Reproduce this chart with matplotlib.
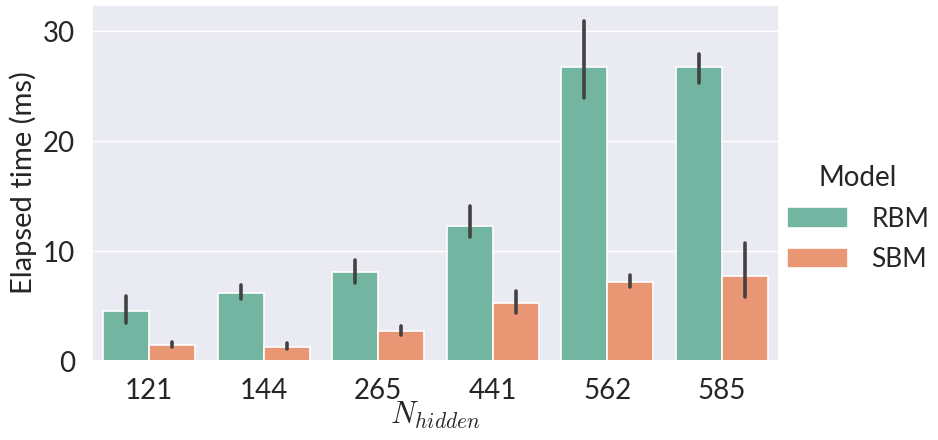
import numpy as np
import matplotlib.pyplot as plt
import seaborn as sns

# Timing results per hidden-layer size
n_hidden = ["121", "144", "265", "441", "562", "585"]
models = ["RBM", "SBM"]

# mean elapsed time (ms) and confidence interval bounds
rbm_mean = [4.55, 6.2, 8.1, 12.3, 26.8, 26.75]
rbm_low = [3.45, 5.6, 7.1, 11.3, 23.9, 25.3]
rbm_high = [5.9, 6.9, 9.2, 14.1, 30.9, 27.9]

sbm_mean = [1.5, 1.3, 2.73, 5.3, 7.2, 7.73]
sbm_low = [1.3, 1.1, 2.33, 4.4, 6.7, 5.85]
sbm_high = [1.75, 1.6, 3.2, 6.4, 7.8, 10.75]

sns.set_theme(style="darkgrid")
plt.rcParams['font.family'] = ['Lato', 'DejaVu Sans']
plt.rcParams['mathtext.fontset'] = 'cm'

# seaborn barplot draws with saturation=0.75
colors = [sns.desaturate(c, 0.75) for c in sns.color_palette("Set2", 2)]
text_color = "#262626"

fig = plt.figure(figsize=(9.38, 4.4), dpi=100)
ax = fig.add_axes([0.098, 0.1795, 0.7325, 0.8091])

x = np.arange(len(n_hidden))
width = 0.4
series = [(rbm_mean, rbm_low, rbm_high), (sbm_mean, sbm_low, sbm_high)]
for i, (name, (mean, low, high)) in enumerate(zip(models, series)):
    pos = x - 0.2 + i * width
    ax.bar(pos, mean, width, color=colors[i], edgecolor="white",
           linewidth=1.2, label=name)
    ax.vlines(pos, low, high, color="#424242", linewidth=2.6,
              capstyle="round", zorder=3)

ax.grid(False, axis="x")
ax.set_xlim(-0.5, len(n_hidden) - 0.5)
ax.set_ylim(0, 32.4)
ax.set_yticks([0, 10, 20, 30])
ax.set_xticks(x)
ax.set_xticklabels(n_hidden)
ax.tick_params(labelsize=20, colors=text_color, pad=6)
ax.set_ylabel("Elapsed time (ms)", fontsize=21, color=text_color)
ax.set_xlabel(r"$N_{hidden}$", fontsize=22, color=text_color, labelpad=-3)

leg = ax.legend(title="Model", loc="center left", bbox_to_anchor=(1.0, 0.4),
                frameon=False, fontsize=19, title_fontsize=20,
                handlelength=2.3, handleheight=0.8, handletextpad=0.9,
                labelspacing=0.6, borderaxespad=0.0, borderpad=0.3)
for t in leg.get_texts():
    t.set_color(text_color)
leg.get_title().set_color(text_color)

fig.savefig("out.png", dpi=100)
